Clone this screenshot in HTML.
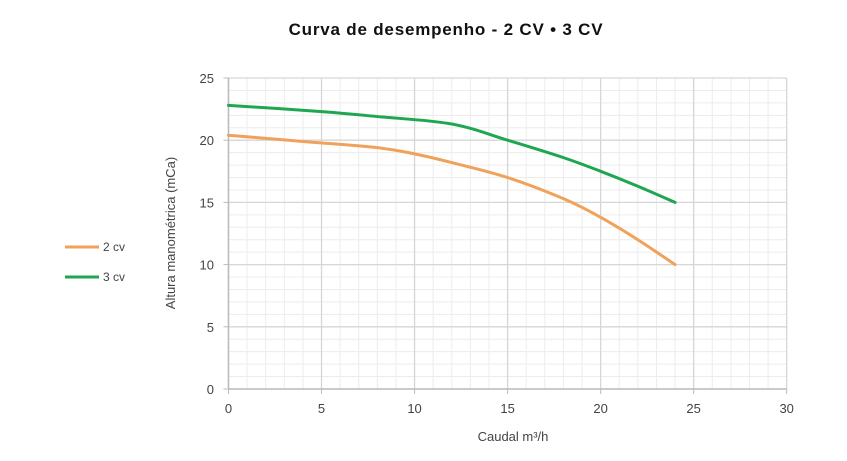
<!DOCTYPE html>
<html><head><meta charset="utf-8"><style>
body{margin:0;background:#fff;width:847px;height:456px;overflow:hidden;font-family:"Liberation Sans",sans-serif}
</style></head><body>
<svg id="c" width="847" height="456">
<text x="446" y="35" text-anchor="middle" font-size="17" font-weight="bold" fill="#111" letter-spacing="0.8">Curva de desempenho - 2 CV • 3 CV</text>
<g id="grid"></g><g id="axes"></g><g id="series"></g>
<text x="513" y="441" text-anchor="middle" font-size="13" fill="#444">Caudal m³/h</text>
<text transform="translate(175,233) rotate(-90)" text-anchor="middle" font-size="13" fill="#444">Altura manométrica (mCa)</text>
<g>
<g><line x1="65" y1="247" x2="99" y2="247" stroke="#F0A25A" stroke-width="3"/><text x="103" y="251" font-size="12" fill="#444">2 cv</text></g>
<g><line x1="65" y1="277" x2="99" y2="277" stroke="#1FA650" stroke-width="3"/><text x="103" y="281" font-size="12" fill="#444">3 cv</text></g>
</g>
</svg>
<script>
const xTicks=[0,5,10,15,20,25,30];
const yTicks=[0,5,10,15,20,25];
const x2cv=[0,4,8,10,12,15,18,20,22,24];
const y2cv=[20.4,19.9,19.4,18.9,18.2,17,15.3,13.8,12,10];
const x3cv=[0,5,8,12,15,18,20,22,24];
const y3cv=[22.8,22.3,21.9,21.3,20,18.6,17.5,16.3,15];
const NS="http://www.w3.org/2000/svg";
const X=v=>228.5+v*(786.7-228.5)/30, Y=v=>389-v*(389-78)/25;
function mk(t,a,p){const e=document.createElementNS(NS,t);for(const k in a)e.setAttribute(k,a[k]);p.appendChild(e);return e;}
const g=document.getElementById('grid'),ax=document.getElementById('axes'),s=document.getElementById('series');
for(let i=1;i<30;i++){if(i%5)mk('line',{x1:X(i),x2:X(i),y1:Y(0),y2:Y(25),stroke:'#ececec','stroke-width':1},g);}
for(let i=1;i<25;i++){if(i%5)mk('line',{x1:X(0),x2:X(30),y1:Y(i),y2:Y(i),stroke:'#ececec','stroke-width':1},g);}
xTicks.forEach(v=>{const l=mk('line',{x1:X(v),x2:X(v),y1:Y(0),y2:Y(25),stroke:'#d6d6d6','stroke-width':1.3},g);

mk('line',{x1:X(v),x2:X(v),y1:Y(0),y2:Y(0)+5,stroke:'#bbb'},ax);
const t=mk('text',{x:X(v),y:413,'text-anchor':'middle','font-size':13,fill:'#444'},ax);t.textContent=v;
});
yTicks.forEach(v=>{const l=mk('line',{x1:X(0),x2:X(30),y1:Y(v),y2:Y(v),stroke:'#d6d6d6','stroke-width':1.3},g);

mk('line',{x1:X(0)-5,x2:X(0),y1:Y(v),y2:Y(v),stroke:'#bbb'},ax);
const t=mk('text',{x:214,y:Y(v)+5,'text-anchor':'end','font-size':13,fill:'#444'},ax);t.textContent=v;
});
mk('line',{x1:X(0),x2:X(30),y1:Y(0),y2:Y(0),stroke:'#bbb','stroke-width':1.5},ax);
mk('line',{x1:X(0),x2:X(0),y1:Y(0),y2:Y(25),stroke:'#bbb','stroke-width':1.5},ax);
function path(xs,ys){const p=xs.map((x,i)=>[X(x),Y(ys[i])]);let d='M'+p[0];
for(let i=0;i<p.length-1;i++){const a=p[i-1]||p[i],b=p[i],c=p[i+1],e=p[i+2]||c;
d+=` C${b[0]+(c[0]-a[0])/6},${b[1]+(c[1]-a[1])/6} ${c[0]-(e[0]-b[0])/6},${c[1]-(e[1]-b[1])/6} ${c[0]},${c[1]}`;}return d;}
const p2=mk('path',{d:path(x2cv,y2cv),fill:'none',stroke:'#F0A25A','stroke-width':3,'stroke-linecap':'round'},s);

const p3=mk('path',{d:path(x3cv,y3cv),fill:'none',stroke:'#1FA650','stroke-width':3,'stroke-linecap':'round'},s);

</script>
</body></html>
